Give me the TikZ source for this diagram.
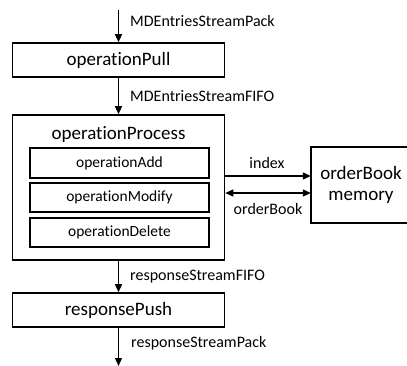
\documentclass[tikz,border=0pt]{standalone}
\usepackage{fontspec}
\setmainfont{Carlito}[Ligatures={NoCommon,NoContextual}]
\usetikzlibrary{arrows.meta}
\begin{document}
\begin{tikzpicture}[x=1pt,y=-1pt,
  box/.style={draw, line width=1.6pt, inner sep=0pt, font=\fontsize{19}{22}\selectfont},
  inbox/.style={draw, line width=1.4pt, inner sep=0pt, minimum width=179pt, font=\fontsize{15.5}{18}\selectfont},
  lbl/.style={inner sep=0pt, font=\fontsize{16}{18}\selectfont},
  arr/.style={line width=1.3pt, -{Triangle[length=8pt,width=7pt]}},
  darr/.style={line width=1.3pt, {Triangle[length=8pt,width=7pt]}-{Triangle[length=8pt,width=7pt]}}]
\useasboundingbox (0,0) rectangle (407,365);
\clip (0,0) rectangle (407,365);
\node[box, minimum width=212pt, minimum height=34pt] (pull) at (118.5,60) {operationPull};
\node[box, minimum width=212pt, minimum height=145pt] (proc) at (118.5,187.5) {};
\node[lbl, font=\fontsize{19}{22}\selectfont] (ptitle) at (118.5,134) {operationProcess};
\node[inbox, minimum height=30pt] (add) at (119.5,163) {operationAdd};
\node[inbox, minimum height=29pt] (mod) at (119.5,197.5) {operationModify};
\node[inbox, minimum height=29pt] (del) at (119.5,232.5) {operationDelete};
\node[box, minimum width=212pt, minimum height=34pt] (push) at (118.5,310) {responsePush};
\node[inner sep=0pt, minimum width=96pt, minimum height=76pt] (mem) at (359,185) {};
\draw[line width=1.6pt] (mem.north east) -- (mem.north west) -- (mem.south west) -- (mem.south east);
\node[lbl, font=\fontsize{19}{22}\selectfont, align=center] (memt) at (361,185) {orderBook\\[-1pt]memory};
\coordinate (top) at (118.5,10);
\coordinate (bot) at (118.5,366);
\coordinate (iy) at (0,176);
\coordinate (oy) at (0,193);
\draw[arr] (top) -- (pull.north);
\draw[arr] (pull.south) -- (proc.north);
\draw[arr] (proc.south) -- (push.north);
\draw[arr] (push.south) -- (bot);
\draw[arr] (proc.east |- iy) -- (mem.west |- iy);
\draw[darr] (proc.east |- oy) -- (mem.west |- oy);
\node[lbl, anchor=west] (l1) at (130,21) {MDEntriesStreamPack};
\node[lbl, anchor=west] (l2) at (130,96) {MDEntriesStreamFIFO};
\node[lbl, anchor=west] (l3) at (130,277) {responseStreamFIFO};
\node[lbl, anchor=west] (l4) at (131,343) {responseStreamPack};
\node[lbl] (lidx) at (267,163) {index};
\node[lbl] (lob) at (268,209) {orderBook};
\end{tikzpicture}
\end{document}
